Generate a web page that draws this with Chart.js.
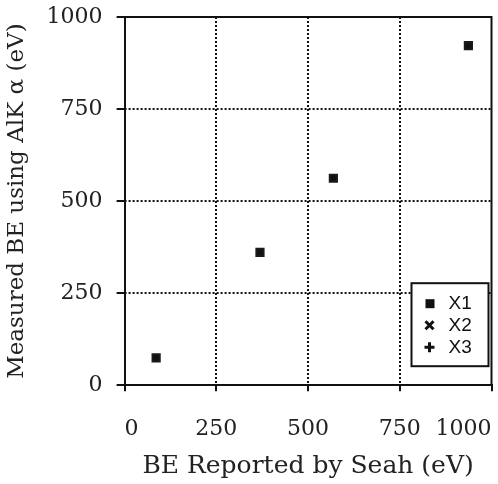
<!DOCTYPE html>
<html>
<head>
<meta charset="utf-8">
<script src="https://cdn.jsdelivr.net/npm/chart.js@4/dist/chart.umd.min.js"></script>
<style>
  html, body { margin: 0; padding: 0; background: #fff; }
  #wrap { width: 498px; height: 484px; }
</style>
</head>
<body>
<div id="wrap"><canvas id="seahChart" width="498" height="484"></canvas></div>
<script>
// values
const seriesNames = ["X1", "X2", "X3"];
const reportedBE = [86, 369, 569, 937];
const measuredX1 = [74, 361, 562, 922];
const measuredX2 = [74, 361, 562, 922];
const measuredX3 = [74, 361, 562, 922];
const tickValues = [0, 250, 500, 750, 1000];

const serif = "'DejaVu Serif', serif";

function toPoints(xs, ys) {
    return xs.map((x, i) => ({ x: x, y: ys[i] }));
}

// dotted inner grid + top/right frame
const frame = {
    id: "frame",
    beforeDatasetsDraw(chart) {
        const { ctx, chartArea: a, scales } = chart;
        ctx.save();
        ctx.strokeStyle = "#111";
        ctx.lineWidth = 2;
        ctx.setLineDash([2, 2]);
        tickValues.slice(1, -1).forEach(v => {
            const px = Math.round(scales.x.getPixelForValue(v));
            const py = Math.round(scales.y.getPixelForValue(v));
            ctx.beginPath();
            ctx.moveTo(px, a.top);
            ctx.lineTo(px, a.bottom);
            ctx.stroke();
            ctx.beginPath();
            ctx.moveTo(a.left, py);
            ctx.lineTo(a.right, py);
            ctx.stroke();
        });
        ctx.setLineDash([]);
        ctx.beginPath();
        ctx.moveTo(a.left, a.top);
        ctx.lineTo(a.right, a.top);
        ctx.lineTo(a.right, a.bottom);
        ctx.stroke();
        ctx.restore();
    }
};

// boxed legend inside the plot, lower right
const boxLegend = {
    id: "boxLegend",
    afterDraw(chart) {
        const { ctx, chartArea: a } = chart;
        const w = 77, h = 83;
        const x0 = a.right - 80, y0 = a.bottom - 102;
        ctx.save();
        ctx.fillStyle = "#fff";
        ctx.fillRect(x0, y0, w, h);
        ctx.strokeStyle = "#111";
        ctx.lineWidth = 2;
        ctx.strokeRect(x0, y0, w, h);
        ctx.font = "19px 'Liberation Sans', sans-serif";
        ctx.textBaseline = "middle";
        seriesNames.forEach((name, i) => {
            const cy = y0 + 20 + i * 22;
            const cx = x0 + 18;
            ctx.fillStyle = "#111";
            ctx.strokeStyle = "#111";
            ctx.lineWidth = 3;
            ctx.beginPath();
            if (i === 0) {
                ctx.fillRect(cx - 4, cy - 4, 9, 9);
            } else if (i === 1) {
                ctx.moveTo(cx - 4, cy - 4); ctx.lineTo(cx + 4, cy + 4);
                ctx.moveTo(cx + 4, cy - 4); ctx.lineTo(cx - 4, cy + 4);
                ctx.stroke();
            } else {
                ctx.moveTo(cx - 5, cy); ctx.lineTo(cx + 5, cy);
                ctx.moveTo(cx, cy - 5); ctx.lineTo(cx, cy + 5);
                ctx.stroke();
            }
            ctx.fillText(name, x0 + 37, cy + 1);
        });
        ctx.restore();
    }
};

new Chart(document.getElementById("seahChart"), {
    type: "scatter",
    data: {
        datasets: [
            {
                label: seriesNames[2],
                data: toPoints(reportedBE, measuredX3),
                pointStyle: "cross",
                pointRadius: 3,
                borderColor: "#111",
                backgroundColor: "#111",
                borderWidth: 2
            },
            {
                label: seriesNames[1],
                data: toPoints(reportedBE, measuredX2),
                pointStyle: "crossRot",
                pointRadius: 3,
                borderColor: "#111",
                backgroundColor: "#111",
                borderWidth: 2
            },
            {
                label: seriesNames[0],
                data: toPoints(reportedBE, measuredX1),
                pointStyle: "rect",
                pointRadius: 6.5,
                borderColor: "#1a1a1a",
                backgroundColor: "#1a1a1a",
                borderWidth: 0
            }
        ]
    },
    options: {
        responsive: false,
        animation: false,
        layout: { padding: { top: 17, right: 4, bottom: 13, left: 3 } },
        plugins: {
            legend: { display: false },
            tooltip: { enabled: false }
        },
        scales: {
            x: {
                type: "linear",
                min: 0,
                max: 1000,
                afterFit: s => { s.paddingRight = 0; },
                ticks: {
                    stepSize: 250,
                    align: "inner",
                    maxRotation: 0,
                    color: "#222",
                    padding: 34,
                    callback: v => String(v),
                    font: { family: serif, size: 22, lineHeight: 0.4 }
                },
                grid: { drawOnChartArea: false, tickLength: 6, color: "#111", lineWidth: 2 },
                border: { color: "#111", width: 2 },
                title: {
                    display: true,
                    text: "BE Reported by Seah (eV)",
                    color: "#222",
                    padding: { top: -7, bottom: 0 },
                    font: { family: serif, size: 25, lineHeight: 0.4 }
                }
            },
            y: {
                type: "linear",
                min: 0,
                max: 1000,
                afterFit: s => { s.paddingTop = 0; s.paddingBottom = 0; },
                ticks: {
                    stepSize: 250,
                    color: "#222",
                    padding: 14,
                    callback: v => String(v),
                    font: { family: serif, size: 22 }
                },
                grid: { drawOnChartArea: false, tickLength: 8, color: "#111", lineWidth: 2 },
                border: { color: "#111", width: 2 },
                title: {
                    display: true,
                    text: "Measured BE using AlK \u03b1 (eV)",
                    color: "#222",
                    padding: { top: 0, bottom: 2 },
                    font: { family: serif, size: 23 }
                }
            }
        }
    },
    plugins: [frame, boxLegend]
});
</script>
</body>
</html>
